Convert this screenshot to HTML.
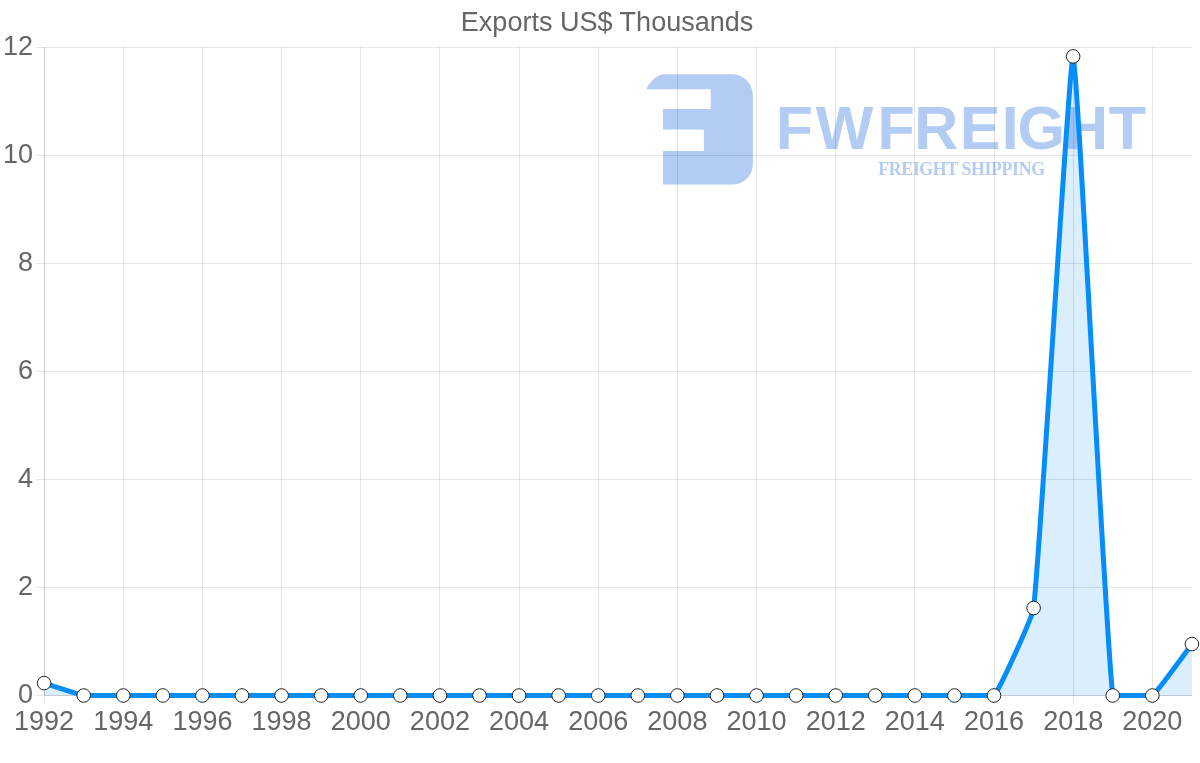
<!DOCTYPE html>
<html><head><meta charset="utf-8"><title>Exports US$ Thousands</title>
<style>
html,body{margin:0;padding:0;background:#fff;}
body{width:1200px;height:763px;overflow:hidden;}
svg{display:block;will-change:transform;font-family:"Liberation Sans",Arial,sans-serif;}
</style></head><body>
<svg width="1200" height="763" viewBox="0 0 1200 763">
<g fill="#b2ccf3">
<path d="M646.3,89.3 C649,83 655,75.5 663.3,74.2 L733,74.2 A20,22 0 0 1 752.9,96 L752.9,164 A20.5,20.5 0 0 1 732.4,184.6 L663,184.6 L663,151 L703.9,151 L703.9,129.4 L663,129.4 L663,109 L710.7,109 L710.7,89.3 Z"/>
<text x="775.66 815.7 877.56 914.23 959.65 1001.72 1017.44 1063.93 1108.74" y="148.75" font-family="'Liberation Sans',sans-serif" font-weight="bold" font-size="61">FWFREIGHT</text>
<text x="878.2" y="174.5" font-family="'Liberation Serif',serif" font-weight="bold" font-size="17.8" textLength="166.8" lengthAdjust="spacing">FREIGHT SHIPPING</text>
</g>
<path d="M36,695.5H1191.9 M36,587.5H1191.9 M36,479.5H1191.9 M36,371.5H1191.9 M36,263.5H1191.9 M36,155.5H1191.9 M36,47.5H1191.9" stroke="rgba(0,0,0,0.1)" stroke-width="1" fill="none" shape-rendering="crispEdges"/>
<path d="M44.5,47.0V704.0 M123.5,47.0V704.0 M202.5,47.0V704.0 M281.5,47.0V704.0 M360.5,47.0V704.0 M439.5,47.0V704.0 M519.5,47.0V704.0 M598.5,47.0V704.0 M677.5,47.0V704.0 M756.5,47.0V704.0 M835.5,47.0V704.0 M914.5,47.0V704.0 M994.5,47.0V704.0 M1073.5,47.0V704.0 M1152.5,47.0V704.0" stroke="rgba(0,0,0,0.1)" stroke-width="1" fill="none" shape-rendering="crispEdges"/>
<path d="M44.5,47.0V696.0 M44.0,695.5H1191.9" stroke="rgba(0,0,0,0.1)" stroke-width="1" fill="none" shape-rendering="crispEdges"/>
<path d="M44.10,683.08 C48.06,684.32 79.63,694.86 83.68,695.50 C87.55,695.50 119.30,695.50 123.26,695.50 C127.22,695.50 158.88,695.50 162.84,695.50 C166.80,695.50 198.46,695.50 202.42,695.50 C206.38,695.50 238.04,695.50 242.00,695.50 C245.96,695.50 277.62,695.50 281.58,695.50 C285.54,695.50 317.20,695.50 321.16,695.50 C325.12,695.50 356.78,695.50 360.74,695.50 C364.70,695.50 396.36,695.50 400.32,695.50 C404.28,695.50 435.94,695.50 439.90,695.50 C443.86,695.50 475.52,695.50 479.48,695.50 C483.44,695.50 515.10,695.50 519.06,695.50 C523.02,695.50 554.68,695.50 558.64,695.50 C562.60,695.50 594.26,695.50 598.22,695.50 C602.18,695.50 633.84,695.50 637.80,695.50 C641.76,695.50 673.42,695.50 677.38,695.50 C681.34,695.50 713.00,695.50 716.96,695.50 C720.92,695.50 752.58,695.50 756.54,695.50 C760.50,695.50 792.16,695.50 796.12,695.50 C800.08,695.50 831.74,695.50 835.70,695.50 C839.66,695.50 871.32,695.50 875.28,695.50 C879.24,695.50 910.90,695.50 914.86,695.50 C918.82,695.50 950.48,695.50 954.44,695.50 C958.40,695.50 991.71,695.50 994.02,695.50 C999.63,689.31 1032.43,617.47 1033.60,608.02 C1040.34,553.57 1069.51,52.36 1073.18,56.41 C1077.43,61.10 1105.30,635.31 1112.76,695.50 C1113.22,695.50 1149.34,695.50 1152.34,695.50 C1157.26,692.31 1187.96,649.23 1191.92,644.09 L1191.92,695.5 L44.10,695.5 Z" fill="rgba(5,142,250,0.15)"/>
<path d="M44.10,683.08 C48.06,684.32 79.63,694.86 83.68,695.50 C87.55,695.50 119.30,695.50 123.26,695.50 C127.22,695.50 158.88,695.50 162.84,695.50 C166.80,695.50 198.46,695.50 202.42,695.50 C206.38,695.50 238.04,695.50 242.00,695.50 C245.96,695.50 277.62,695.50 281.58,695.50 C285.54,695.50 317.20,695.50 321.16,695.50 C325.12,695.50 356.78,695.50 360.74,695.50 C364.70,695.50 396.36,695.50 400.32,695.50 C404.28,695.50 435.94,695.50 439.90,695.50 C443.86,695.50 475.52,695.50 479.48,695.50 C483.44,695.50 515.10,695.50 519.06,695.50 C523.02,695.50 554.68,695.50 558.64,695.50 C562.60,695.50 594.26,695.50 598.22,695.50 C602.18,695.50 633.84,695.50 637.80,695.50 C641.76,695.50 673.42,695.50 677.38,695.50 C681.34,695.50 713.00,695.50 716.96,695.50 C720.92,695.50 752.58,695.50 756.54,695.50 C760.50,695.50 792.16,695.50 796.12,695.50 C800.08,695.50 831.74,695.50 835.70,695.50 C839.66,695.50 871.32,695.50 875.28,695.50 C879.24,695.50 910.90,695.50 914.86,695.50 C918.82,695.50 950.48,695.50 954.44,695.50 C958.40,695.50 991.71,695.50 994.02,695.50 C999.63,689.31 1032.43,617.47 1033.60,608.02 C1040.34,553.57 1069.51,52.36 1073.18,56.41 C1077.43,61.10 1105.30,635.31 1112.76,695.50 C1113.22,695.50 1149.34,695.50 1152.34,695.50 C1157.26,692.31 1187.96,649.23 1191.92,644.09" fill="none" stroke="rgb(5,142,250)" stroke-width="5" stroke-linejoin="miter" stroke-miterlimit="10"/>
<circle cx="44.10" cy="683.08" r="6.8" fill="#fff" stroke="#222" stroke-width="1"/>
<circle cx="83.68" cy="695.50" r="6.8" fill="#fff" stroke="#222" stroke-width="1"/>
<circle cx="123.26" cy="695.50" r="6.8" fill="#fff" stroke="#222" stroke-width="1"/>
<circle cx="162.84" cy="695.50" r="6.8" fill="#fff" stroke="#222" stroke-width="1"/>
<circle cx="202.42" cy="695.50" r="6.8" fill="#fff" stroke="#222" stroke-width="1"/>
<circle cx="242.00" cy="695.50" r="6.8" fill="#fff" stroke="#222" stroke-width="1"/>
<circle cx="281.58" cy="695.50" r="6.8" fill="#fff" stroke="#222" stroke-width="1"/>
<circle cx="321.16" cy="695.50" r="6.8" fill="#fff" stroke="#222" stroke-width="1"/>
<circle cx="360.74" cy="695.50" r="6.8" fill="#fff" stroke="#222" stroke-width="1"/>
<circle cx="400.32" cy="695.50" r="6.8" fill="#fff" stroke="#222" stroke-width="1"/>
<circle cx="439.90" cy="695.50" r="6.8" fill="#fff" stroke="#222" stroke-width="1"/>
<circle cx="479.48" cy="695.50" r="6.8" fill="#fff" stroke="#222" stroke-width="1"/>
<circle cx="519.06" cy="695.50" r="6.8" fill="#fff" stroke="#222" stroke-width="1"/>
<circle cx="558.64" cy="695.50" r="6.8" fill="#fff" stroke="#222" stroke-width="1"/>
<circle cx="598.22" cy="695.50" r="6.8" fill="#fff" stroke="#222" stroke-width="1"/>
<circle cx="637.80" cy="695.50" r="6.8" fill="#fff" stroke="#222" stroke-width="1"/>
<circle cx="677.38" cy="695.50" r="6.8" fill="#fff" stroke="#222" stroke-width="1"/>
<circle cx="716.96" cy="695.50" r="6.8" fill="#fff" stroke="#222" stroke-width="1"/>
<circle cx="756.54" cy="695.50" r="6.8" fill="#fff" stroke="#222" stroke-width="1"/>
<circle cx="796.12" cy="695.50" r="6.8" fill="#fff" stroke="#222" stroke-width="1"/>
<circle cx="835.70" cy="695.50" r="6.8" fill="#fff" stroke="#222" stroke-width="1"/>
<circle cx="875.28" cy="695.50" r="6.8" fill="#fff" stroke="#222" stroke-width="1"/>
<circle cx="914.86" cy="695.50" r="6.8" fill="#fff" stroke="#222" stroke-width="1"/>
<circle cx="954.44" cy="695.50" r="6.8" fill="#fff" stroke="#222" stroke-width="1"/>
<circle cx="994.02" cy="695.50" r="6.8" fill="#fff" stroke="#222" stroke-width="1"/>
<circle cx="1033.60" cy="608.02" r="6.8" fill="#fff" stroke="#222" stroke-width="1"/>
<circle cx="1073.18" cy="56.41" r="6.8" fill="#fff" stroke="#222" stroke-width="1"/>
<circle cx="1112.76" cy="695.50" r="6.8" fill="#fff" stroke="#222" stroke-width="1"/>
<circle cx="1152.34" cy="695.50" r="6.8" fill="#fff" stroke="#222" stroke-width="1"/>
<circle cx="1191.92" cy="644.09" r="6.8" fill="#fff" stroke="#222" stroke-width="1"/>
<text x="460.8" y="31" font-size="26.8" fill="#666" textLength="292.6" lengthAdjust="spacingAndGlyphs">Exports US$ Thousands</text>
<text x="33" y="703.00" text-anchor="end" font-size="27" fill="#666">0</text>
<text x="33" y="595.00" text-anchor="end" font-size="27" fill="#666">2</text>
<text x="33" y="487.00" text-anchor="end" font-size="27" fill="#666">4</text>
<text x="33" y="379.00" text-anchor="end" font-size="27" fill="#666">6</text>
<text x="33" y="271.00" text-anchor="end" font-size="27" fill="#666">8</text>
<text x="33" y="163.00" text-anchor="end" font-size="27" fill="#666">10</text>
<text x="33" y="55.00" text-anchor="end" font-size="27" fill="#666">12</text>
<text x="44.10" y="729.6" text-anchor="middle" font-size="27" fill="#666">1992</text>
<text x="123.26" y="729.6" text-anchor="middle" font-size="27" fill="#666">1994</text>
<text x="202.42" y="729.6" text-anchor="middle" font-size="27" fill="#666">1996</text>
<text x="281.58" y="729.6" text-anchor="middle" font-size="27" fill="#666">1998</text>
<text x="360.74" y="729.6" text-anchor="middle" font-size="27" fill="#666">2000</text>
<text x="439.90" y="729.6" text-anchor="middle" font-size="27" fill="#666">2002</text>
<text x="519.06" y="729.6" text-anchor="middle" font-size="27" fill="#666">2004</text>
<text x="598.22" y="729.6" text-anchor="middle" font-size="27" fill="#666">2006</text>
<text x="677.38" y="729.6" text-anchor="middle" font-size="27" fill="#666">2008</text>
<text x="756.54" y="729.6" text-anchor="middle" font-size="27" fill="#666">2010</text>
<text x="835.70" y="729.6" text-anchor="middle" font-size="27" fill="#666">2012</text>
<text x="914.86" y="729.6" text-anchor="middle" font-size="27" fill="#666">2014</text>
<text x="994.02" y="729.6" text-anchor="middle" font-size="27" fill="#666">2016</text>
<text x="1073.18" y="729.6" text-anchor="middle" font-size="27" fill="#666">2018</text>
<text x="1152.34" y="729.6" text-anchor="middle" font-size="27" fill="#666">2020</text>
</svg>
</body></html>
